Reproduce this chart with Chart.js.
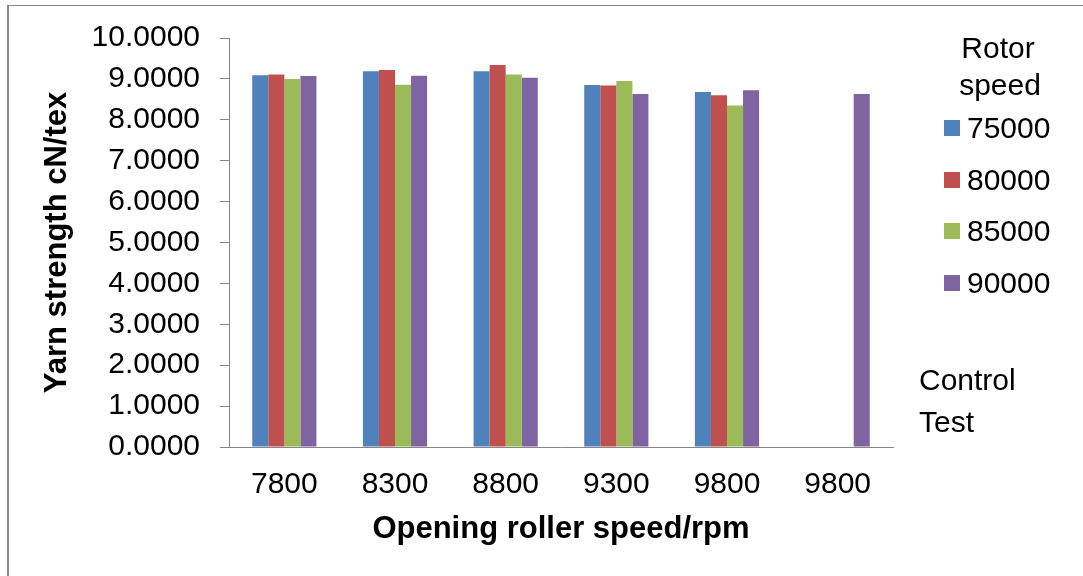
<!DOCTYPE html>
<html>
<head>
<meta charset="utf-8">
<script src="https://cdn.jsdelivr.net/npm/chart.js@4/dist/chart.umd.min.js"></script>
<style>
    html, body { margin: 0; padding: 0; background: #fff; }
    #wrap { position: relative; width: 1083px; height: 576px; overflow: hidden; font-family: "Liberation Sans", Arial, sans-serif; }
    #frame { position: absolute; left: 7px; top: 5px; right: -10px; bottom: -10px; border-left: 2px solid #888; border-top: 1px solid #888; pointer-events: none; }
    .lg { position: absolute; font-size: 30px; line-height: 30px; color: #000; white-space: nowrap; }
    .sw { position: absolute; width: 16px; height: 16px; }
</style>
</head>
<body>
<div id="wrap">
    <canvas id="chart" width="1083" height="576"></canvas>
    <div id="frame"></div>
    <div id="legend"></div>
</div>
<script>
// Chart data
const categories = ['7800', '8300', '8800', '9300', '9800', '9800'];
const seriesNames = ['75000', '80000', '85000', '90000'];
const seriesColors = ['#4F81BD', '#C0504D', '#9BBB59', '#8064A2'];
const s75000 = [9.09, 9.19, 9.19, 8.85, 8.68, null];
const s80000 = [9.11, 9.22, 9.34, 8.84, 8.60, null];
const s85000 = [9.00, 8.86, 9.11, 8.95, 8.35, null];
const s90000 = [9.07, 9.08, 9.03, 8.63, 8.72, 8.63];
const seriesValues = [s75000, s80000, s85000, s90000];

const FONT = '"Liberation Sans", Arial, sans-serif';
const AXIS_GRAY = '#868686';

// Build the legend on the right side
function buildLegend() {
    const legend = document.getElementById('legend');
    let html = '';
    html += '<div class="lg" style="left:938px;top:33px;width:120px;text-align:center">Rotor</div>';
    html += '<div class="lg" style="left:940px;top:70px;width:120px;text-align:center">speed</div>';
    seriesNames.forEach((name, i) => {
        const cy = 128 + i * 51.5;
        html += '<div class="sw" style="left:944px;top:' + (cy - 8) + 'px;background:' + seriesColors[i] + '"></div>';
        html += '<div class="lg" style="left:967px;top:' + (cy - 15) + 'px">' + name + '</div>';
    });
    html += '<div class="lg" style="left:919px;top:365px">Control</div>';
    html += '<div class="lg" style="left:919px;top:407px">Test</div>';
    legend.innerHTML = html;
}

function initChart() {
    const ctx = document.getElementById('chart').getContext('2d');
    new Chart(ctx, {
        type: 'bar',
        data: {
            labels: categories,
            datasets: seriesNames.map((name, i) => ({
                label: name,
                data: seriesValues[i],
                backgroundColor: seriesColors[i],
                borderWidth: 0,
                barPercentage: 1.0,
                categoryPercentage: 0.58
            }))
        },
        options: {
            responsive: false,
            animation: false,
            layout: {
                padding: { left: 0, right: 190, top: 36, bottom: 0 }
            },
            plugins: {
                legend: { display: false },
                tooltip: { enabled: false }
            },
            scales: {
                x: {
                    grid: { display: false, drawTicks: false },
                    border: { display: true, color: AXIS_GRAY, width: 1 },
                    ticks: {
                        color: '#000',
                        padding: 20,
                        maxRotation: 0,
                        autoSkip: false,
                        font: { family: FONT, size: 30 }
                    },
                    title: {
                        display: true,
                        text: 'Opening roller speed/rpm',
                        color: '#000',
                        font: { family: FONT, size: 31, weight: 'bold' },
                        padding: { top: 0, bottom: 28 }
                    },
                    afterFit: (scale) => { scale.height = 129; }
                },
                y: {
                    min: 0,
                    max: 10,
                    grid: {
                        drawOnChartArea: false,
                        drawTicks: true,
                        tickLength: 9,
                        color: AXIS_GRAY
                    },
                    border: { display: true, color: AXIS_GRAY, width: 1 },
                    ticks: {
                        stepSize: 1,
                        color: '#000',
                        padding: 20,
                        font: { family: FONT, size: 30 },
                        callback: (v) => Number(v).toFixed(4)
                    },
                    title: {
                        display: true,
                        text: 'Yarn strength cN/tex',
                        color: '#000',
                        font: { family: FONT, size: 31, weight: 'bold' },
                        padding: { top: 39, bottom: 0 }
                    },
                    afterFit: (scale) => { scale.width = 229; }
                }
            }
        }
    });
}

document.addEventListener('DOMContentLoaded', () => {
    buildLegend();
    initChart();
});
</script>
</body>
</html>
